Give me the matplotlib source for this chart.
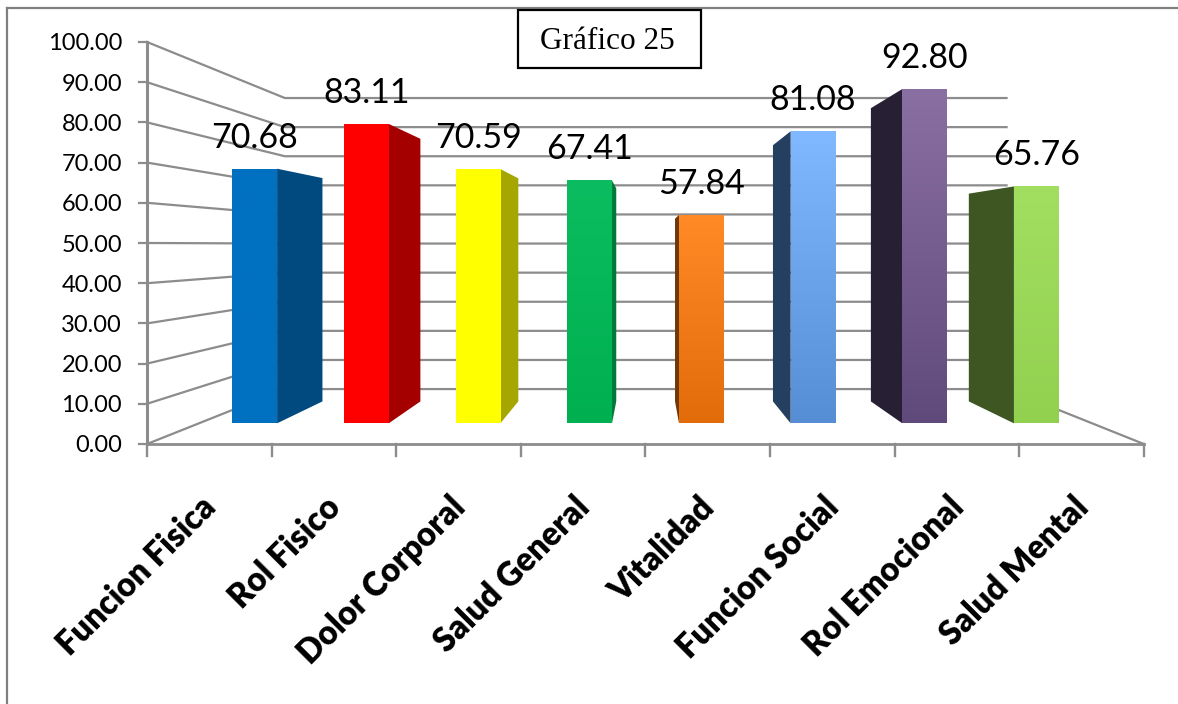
import numpy as np
import matplotlib
matplotlib.use('Agg')
import matplotlib.pyplot as plt
from matplotlib.colors import LinearSegmentedColormap
from matplotlib.patches import Polygon, Rectangle

categories = ['Funcion Fisica', 'Rol Fisico', 'Dolor Corporal', 'Salud General',
              'Vitalidad', 'Funcion Social', 'Rol Emocional', 'Salud Mental']
values = [70.68, 83.11, 70.59, 67.41, 57.84, 81.08, 92.80, 65.76]
ticks = [0, 10, 20, 30, 40, 50, 60, 70, 80, 90, 100]

# top and bottom colour of each front face, then the side face
front_top = ['#0070c0', '#ff0000', '#ffff00', '#0bbd60', '#ff8a26', '#80b9ff', '#8a6fa3', '#a2df60']
front_bottom = ['#0070c0', '#ff0000', '#ffff00', '#00b050', '#e36c0a', '#558ed5', '#604a7b', '#92d050']
side_color = ['#004a7f', '#a50000', '#a6a600', '#007a38', '#6f3808', '#243f60', '#272035', '#3e5622']

GRAY = '#8c8c8c'

# perspective of the box, in pixels
VP_X, VP_Y = 646.5, 245
LEFT, BOTTOM = 147, 444
CELL = 124.6
UNIT = 4.02
S_BACK = 0.724
S_FRONT_BAR = 0.896
S_BACK_BAR = 0.786
BAR_W = 0.4


def proj(cat, val, s=1.0):
    x = VP_X + s * (LEFT + CELL * cat - VP_X)
    y = VP_Y + s * (BOTTOM - UNIT * val - VP_Y)
    return x, y


fig = plt.figure(figsize=(11.78, 7.04), dpi=100)
ax = fig.add_axes([0, 0, 1, 1])
n = len(categories)

# walls: gridlines run along the left wall, then across the back
for t in ticks:
    pts = [proj(0, t), proj(0, t, S_BACK), proj(n, t, S_BACK)]
    ax.plot(*zip(*pts), color=GRAY, lw=1.6, zorder=1)
    x0, y0 = proj(0, t)
    ax.plot([x0 - 8, x0], [y0, y0], color=GRAY, lw=1.6, zorder=2)
    ax.text(x0 - 25, y0 + 2, '%.2f' % t, ha='right', va='center', fontsize=17,
            family='Lato', color='black')

# floor edge on the right and the two front axes
ax.plot(*zip(proj(n, 0), proj(n, 0, S_BACK)), color=GRAY, lw=1.6, zorder=1)
ax.plot(*zip(proj(0, 0), proj(0, 100)), color=GRAY, lw=2.2, zorder=2)
ax.plot(*zip(proj(0, 0), proj(n, 0)), color=GRAY, lw=2, zorder=2)
for i in range(n + 1):
    x0, y0 = proj(i, 0)
    ax.plot([x0, x0], [y0, y0 + 12], color=GRAY, lw=1.7, zorder=2)

for i, v in enumerate(values):
    c0 = i + 0.5 - BAR_W / 2
    c1 = i + 0.5 + BAR_W / 2
    # the side facing the middle of the chart is the one that shows
    edge = c1 if proj(i + 0.5, 0)[0] < VP_X else c0
    side = [proj(edge, 0, S_FRONT_BAR), proj(edge, v, S_FRONT_BAR),
            proj(edge, v, S_BACK_BAR), proj(edge, 0, S_BACK_BAR)]
    ax.add_patch(Polygon(side, closed=True, fc=side_color[i], ec='none', zorder=3))

    xa, ya = proj(c0, v, S_FRONT_BAR)
    xb, yb = proj(c1, 0, S_FRONT_BAR)
    cmap = LinearSegmentedColormap.from_list('bar%d' % i, [front_top[i], front_bottom[i]])
    face = Rectangle((xa, ya), xb - xa, yb - ya, fc='none', ec='none', zorder=4)
    ax.add_patch(face)
    im = ax.imshow(np.linspace(0, 1, 256).reshape(-1, 1), cmap=cmap, aspect='auto',
                   extent=(xa, xb, yb, ya), zorder=4)
    im.set_clip_path(face)

    ax.text((xa + xb) / 2, ya - 31, '%.2f' % v, ha='center', va='center', fontsize=24.5,
            family='Lato', color='black', zorder=6)

    # category names hang from their tick gap at 45 degrees
    xl, yl = proj(i + 0.55, 0)
    ax.text(xl - 16, yl + 47, categories[i], rotation=45, rotation_mode='anchor',
            ha='right', va='top', fontsize=23.6, fontweight='heavy', family='Lato',
            color='black', zorder=6)

# boxed heading
ax.add_patch(Rectangle((518, 10), 183, 58, fc='white', ec='black', lw=1.6, zorder=7))
ax.text(607, 41.5, 'Gráfico 25', ha='center', va='center', fontsize=22.5,
        family='Liberation Serif', color='black', zorder=8)

# frame lines at the top and left edge
ax.plot([7, 1178], [8, 8], color='#808080', lw=1.6, zorder=5)
ax.plot([7, 7], [8, 704], color='#808080', lw=1.6, zorder=5)

ax.set_xlim(0, 1178)
ax.set_ylim(704, 0)
ax.axis('off')
fig.savefig('out.png', dpi=100, facecolor='white')
